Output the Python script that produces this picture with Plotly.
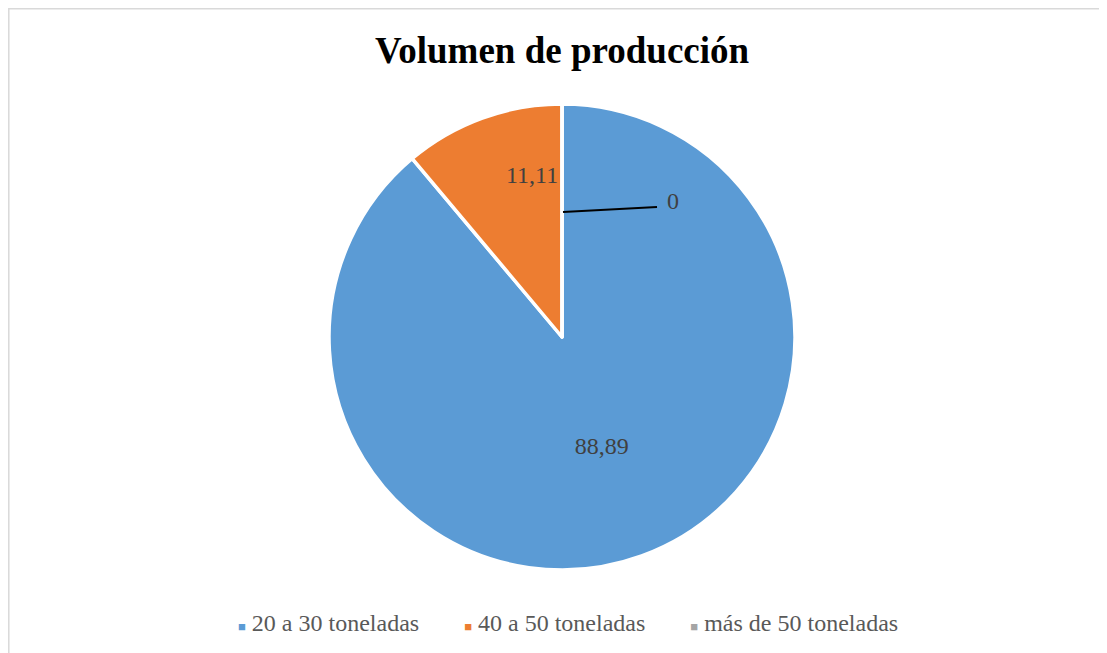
import plotly.graph_objects as go

categories = ["20 a 30 toneladas", "40 a 50 toneladas", "más de 50 toneladas"]
values = [88.89, 11.11, 0]
value_labels = ["88,89", "11,11", "0"]
colors = ["#5B9BD5", "#ED7D31", "#A5A5A5"]

# page body has an 8px margin: figure coords = viewport coords - 8
W, H = 1099, 645
cx, r = 554, 233
cy_top, cy_bot = 96, 562
LABEL_FONT = dict(family="Liberation Serif", size=24, color="#404040")

fig = go.Figure()
fig.add_trace(go.Pie(
    labels=categories,
    values=values,
    text=value_labels,
    texttemplate=["%{text}", "", ""],
    textinfo="text",
    textposition="inside",
    insidetextorientation="horizontal",
    insidetextfont=LABEL_FONT,
    sort=False,
    direction="clockwise",
    rotation=0,
    marker=dict(colors=colors, line=dict(color="white", width=3.5)),
    showlegend=False,
    hoverinfo="label+value",
    domain=dict(x=[(cx - r) / W, (cx + r) / W], y=[1 - cy_bot / H, 1 - cy_top / H]),
))

for name, col in zip(categories, colors):
    fig.add_trace(go.Scatter(
        x=[None], y=[None], mode="markers",
        name=f'<span style="color:{col};font-size:13px">■</span> {name}',
        marker=dict(symbol="square", size=1, color="rgba(0,0,0,0)"),
        showlegend=True,
    ))

# label for orange slice
fig.add_annotation(
    x=552 / W, y=1 - 167 / H, xref="paper", yref="paper",
    text=value_labels[1], showarrow=False, xanchor="right", yanchor="middle",
    font=LABEL_FONT,
)
# label for zero slice
fig.add_annotation(
    x=657 / W, y=1 - 193 / H, xref="paper", yref="paper",
    text=value_labels[2], showarrow=False, xanchor="left", yanchor="middle",
    font=LABEL_FONT,
)

fig.update_layout(
    width=W, height=H,
    margin=dict(l=0, r=0, t=0, b=0),
    paper_bgcolor="white", plot_bgcolor="white",
    title=dict(text="<b>Volumen de producción</b>", x=554 / W, xanchor="center",
               y=1 - 42 / H, yanchor="middle",
               font=dict(family="Liberation Serif", size=37, color="black")),
    xaxis=dict(visible=False), yaxis=dict(visible=False),
    legend=dict(orientation="h", x=190 / W, xanchor="left", y=1 - 614 / H, yanchor="middle",
                font=dict(family="Liberation Serif", size=24, color="#595959"),
                itemwidth=30, bgcolor="rgba(0,0,0,0)"),
    shapes=[
        dict(type="rect", xref="paper", yref="paper",
             x0=0.8 / W, x1=1.01, y0=-0.01, y1=1 - 0.8 / H,
             line=dict(color="#D9D9D9", width=1.5), layer="below"),
        dict(type="line", xref="paper", yref="paper",
             x0=555 / W, y0=1 - 204 / H, x1=649 / W, y1=1 - 199 / H,
             line=dict(color="black", width=2), layer="above"),
    ],
)

fig.write_html("out.html")
